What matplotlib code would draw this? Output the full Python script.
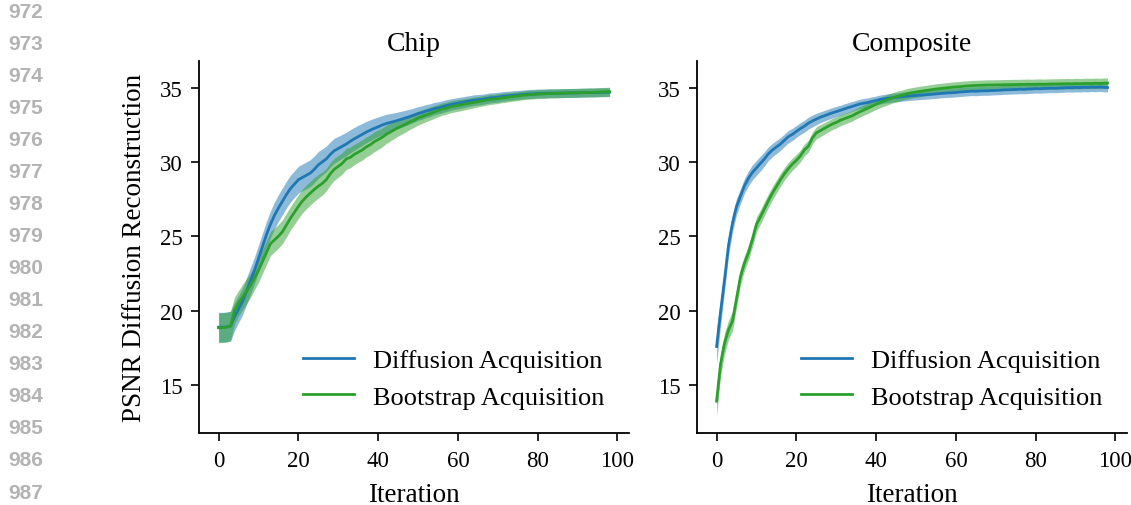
import numpy as np
import matplotlib
matplotlib.use("Agg")
import matplotlib.pyplot as plt

iterations = np.arange(99)

chip_diffusion_mean = [
    18.88, 18.88, 18.90, 18.95, 19.60, 20.10, 20.60, 21.30, 22.00, 22.70,
    23.50, 24.30, 25.10, 25.80, 26.40, 26.90, 27.35, 27.80, 28.20, 28.50,
    28.80, 28.95, 29.10, 29.25, 29.50, 29.80, 30.00, 30.20, 30.50, 30.75,
    30.90, 31.05, 31.20, 31.38, 31.55, 31.70, 31.85, 32.00, 32.13, 32.25,
    32.36, 32.48, 32.58, 32.65, 32.72, 32.80, 32.88, 32.97, 33.05, 33.15,
    33.25, 33.32, 33.42, 33.48, 33.58, 33.63, 33.70, 33.78, 33.84, 33.90,
    33.95, 34.00, 34.05, 34.10, 34.15, 34.18, 34.20, 34.25, 34.30, 34.32,
    34.35, 34.40, 34.43, 34.45, 34.48, 34.50, 34.53, 34.55, 34.57, 34.58,
    34.60, 34.60, 34.61, 34.62, 34.62, 34.62, 34.63, 34.63, 34.64, 34.64,
    34.64, 34.65, 34.66, 34.67, 34.66, 34.67, 34.68, 34.68, 34.69,
]
chip_diffusion_std = [
    1.00, 1.00, 1.00, 1.00, 0.95, 0.90, 0.90, 0.90, 0.90, 0.90,
    0.90, 0.90, 0.90, 0.90, 0.90, 0.90, 0.90, 0.90, 0.90, 0.90,
    0.90, 0.90, 0.90, 0.90, 0.90, 0.90, 0.88, 0.86, 0.85, 0.84,
    0.82, 0.80, 0.79, 0.78, 0.77, 0.76, 0.74, 0.72, 0.70, 0.68,
    0.66, 0.64, 0.62, 0.60, 0.58, 0.56, 0.54, 0.52, 0.50, 0.48,
    0.46, 0.45, 0.44, 0.43, 0.42, 0.41, 0.40, 0.40, 0.39, 0.38,
    0.38, 0.37, 0.37, 0.36, 0.36, 0.35, 0.35, 0.34, 0.34, 0.33,
    0.33, 0.32, 0.32, 0.31, 0.31, 0.30, 0.30, 0.30, 0.30, 0.30,
    0.30, 0.30, 0.30, 0.30, 0.30, 0.30, 0.30, 0.30, 0.30, 0.30,
    0.30, 0.30, 0.30, 0.30, 0.30, 0.30, 0.30, 0.30, 0.30,
]
chip_bootstrap_mean = [
    18.84, 18.85, 18.88, 18.97, 20.00, 20.50, 20.90, 21.30, 21.70, 22.20,
    22.70, 23.30, 23.90, 24.50, 24.75, 25.00, 25.30, 25.75, 26.20, 26.60,
    27.00, 27.36, 27.65, 27.90, 28.15, 28.36, 28.55, 28.80, 29.20, 29.50,
    29.70, 29.90, 30.20, 30.30, 30.50, 30.65, 30.80, 31.00, 31.15, 31.35,
    31.50, 31.65, 31.85, 32.00, 32.15, 32.30, 32.42, 32.55, 32.70, 32.80,
    32.95, 33.05, 33.15, 33.25, 33.35, 33.45, 33.55, 33.60, 33.70, 33.75,
    33.80, 33.85, 33.90, 33.95, 34.00, 34.05, 34.10, 34.15, 34.20, 34.22,
    34.26, 34.30, 34.33, 34.37, 34.40, 34.43, 34.47, 34.50, 34.52, 34.54,
    34.56, 34.57, 34.58, 34.60, 34.60, 34.61, 34.62, 34.63, 34.63, 34.64,
    34.65, 34.66, 34.66, 34.67, 34.68, 34.69, 34.70, 34.71, 34.72,
]
chip_bootstrap_std = [
    1.00, 1.00, 1.00, 1.00, 0.90, 0.85, 0.85, 0.85, 0.82, 0.80,
    0.80, 0.80, 0.80, 0.80, 0.80, 0.80, 0.80, 0.80, 0.80, 0.80,
    0.80, 0.80, 0.80, 0.80, 0.80, 0.80, 0.78, 0.76, 0.75, 0.74,
    0.73, 0.72, 0.71, 0.70, 0.69, 0.68, 0.68, 0.67, 0.67, 0.67,
    0.66, 0.64, 0.62, 0.60, 0.58, 0.56, 0.54, 0.52, 0.50, 0.48,
    0.47, 0.46, 0.45, 0.44, 0.43, 0.42, 0.41, 0.40, 0.40, 0.40,
    0.40, 0.39, 0.38, 0.37, 0.36, 0.35, 0.35, 0.34, 0.34, 0.33,
    0.33, 0.32, 0.32, 0.31, 0.31, 0.30, 0.30, 0.30, 0.30, 0.30,
    0.30, 0.30, 0.30, 0.30, 0.30, 0.30, 0.30, 0.30, 0.30, 0.30,
    0.30, 0.30, 0.30, 0.30, 0.30, 0.30, 0.30, 0.30, 0.30,
]

composite_diffusion_mean = [
    17.58, 19.90, 22.10, 24.40, 25.90, 27.00, 27.70, 28.40, 28.90, 29.30,
    29.60, 29.90, 30.20, 30.55, 30.80, 31.00, 31.20, 31.45, 31.70, 31.85,
    32.05, 32.24, 32.40, 32.60, 32.75, 32.88, 33.00, 33.10, 33.20, 33.30,
    33.38, 33.47, 33.56, 33.65, 33.73, 33.82, 33.90, 33.95, 34.00, 34.07,
    34.13, 34.20, 34.24, 34.28, 34.31, 34.34, 34.37, 34.40, 34.42, 34.45,
    34.47, 34.49, 34.51, 34.53, 34.55, 34.57, 34.60, 34.62, 34.64, 34.65,
    34.67, 34.70, 34.72, 34.74, 34.76, 34.75, 34.77, 34.78, 34.78, 34.80,
    34.81, 34.82, 34.84, 34.85, 34.86, 34.87, 34.89, 34.88, 34.90, 34.91,
    34.93, 34.92, 34.94, 34.95, 34.96, 34.95, 34.97, 34.98, 35.00, 34.99,
    35.01, 35.00, 35.02, 35.01, 35.03, 35.02, 35.04, 35.02, 35.00,
]
composite_diffusion_std = [
    1.20, 0.90, 0.80, 0.70, 0.60, 0.55, 0.50, 0.50, 0.50, 0.50,
    0.50, 0.50, 0.48, 0.46, 0.45, 0.44, 0.43, 0.42, 0.42, 0.41,
    0.40, 0.40, 0.40, 0.40, 0.40, 0.38, 0.37, 0.36, 0.35, 0.35,
    0.35, 0.34, 0.34, 0.33, 0.33, 0.32, 0.32, 0.32, 0.31, 0.31,
    0.30, 0.30, 0.30, 0.30, 0.30, 0.30, 0.30, 0.30, 0.30, 0.30,
    0.30, 0.30, 0.30, 0.30, 0.30, 0.30, 0.30, 0.30, 0.30, 0.30,
    0.30, 0.30, 0.30, 0.30, 0.30, 0.30, 0.30, 0.30, 0.30, 0.30,
    0.30, 0.30, 0.30, 0.30, 0.30, 0.30, 0.30, 0.30, 0.30, 0.30,
    0.30, 0.30, 0.30, 0.30, 0.30, 0.30, 0.30, 0.30, 0.30, 0.30,
    0.30, 0.30, 0.30, 0.30, 0.30, 0.30, 0.30, 0.30, 0.30,
]
composite_bootstrap_mean = [
    13.90, 16.40, 17.80, 18.70, 19.30, 20.80, 22.30, 23.20, 23.90, 24.80,
    25.80, 26.30, 26.85, 27.40, 27.90, 28.35, 28.80, 29.20, 29.55, 29.85,
    30.10, 30.40, 30.80, 31.05, 31.60, 31.95, 32.10, 32.25, 32.40, 32.55,
    32.65, 32.80, 32.90, 33.00, 33.10, 33.25, 33.38, 33.50, 33.62, 33.75,
    33.88, 34.00, 34.10, 34.20, 34.30, 34.38, 34.45, 34.52, 34.60, 34.65,
    34.70, 34.74, 34.78, 34.82, 34.86, 34.90, 34.93, 34.96, 34.99, 35.02,
    35.04, 35.06, 35.09, 35.11, 35.13, 35.14, 35.15, 35.16, 35.17, 35.17,
    35.18, 35.18, 35.19, 35.19, 35.20, 35.20, 35.21, 35.21, 35.22, 35.21,
    35.22, 35.23, 35.22, 35.23, 35.24, 35.24, 35.25, 35.25, 35.26, 35.25,
    35.27, 35.26, 35.27, 35.28, 35.27, 35.29, 35.28, 35.29, 35.30,
]
composite_bootstrap_std = [
    1.00, 0.80, 0.70, 0.65, 0.65, 0.60, 0.55, 0.50, 0.50, 0.50,
    0.50, 0.48, 0.47, 0.46, 0.45, 0.44, 0.43, 0.42, 0.42, 0.41,
    0.40, 0.40, 0.40, 0.40, 0.40, 0.40, 0.40, 0.39, 0.38, 0.38,
    0.37, 0.37, 0.36, 0.36, 0.35, 0.35, 0.35, 0.35, 0.35, 0.35,
    0.35, 0.35, 0.35, 0.35, 0.35, 0.35, 0.35, 0.35, 0.35, 0.35,
    0.35, 0.35, 0.35, 0.35, 0.35, 0.35, 0.35, 0.35, 0.35, 0.35,
    0.35, 0.35, 0.35, 0.35, 0.35, 0.35, 0.35, 0.35, 0.35, 0.35,
    0.35, 0.35, 0.35, 0.35, 0.35, 0.35, 0.35, 0.35, 0.35, 0.35,
    0.35, 0.35, 0.35, 0.35, 0.35, 0.35, 0.35, 0.35, 0.35, 0.35,
    0.35, 0.35, 0.35, 0.35, 0.35, 0.35, 0.35, 0.35, 0.35,
]

panel_titles = ["Chip", "Composite"]
series_labels = ["Diffusion Acquisition", "Bootstrap Acquisition"]
series_colors = ["#1f77b4", "#2ca02c"]
panels = [
    [(chip_diffusion_mean, chip_diffusion_std), (chip_bootstrap_mean, chip_bootstrap_std)],
    [(composite_diffusion_mean, composite_diffusion_std),
     (composite_bootstrap_mean, composite_bootstrap_std)],
]
line_numbers = list(range(972, 988))

plt.rcParams["font.family"] = ["Liberation Serif", "DejaVu Serif"]

fig = plt.figure(figsize=(11.31, 5.06), dpi=100)
ax_left = fig.add_axes([0.1760, 0.1423, 0.3802, 0.7352])
ax_right = fig.add_axes([0.6163, 0.1423, 0.3802, 0.7352], sharey=ax_left)

for ax, title, series in zip([ax_left, ax_right], panel_titles, panels):
    for (mean, std), label, color in zip(series, series_labels, series_colors):
        mean = np.asarray(mean)
        std = np.asarray(std)
        ax.fill_between(iterations, mean - std, mean + std, color=color,
                        alpha=0.5, linewidth=0)
        ax.plot(iterations, mean, color=color, lw=2.0, label=label)
    ax.set_title(title, fontsize=20, pad=8)
    ax.set_xlabel("Iteration", fontsize=19.5, labelpad=8)
    ax.set_xticks([0, 20, 40, 60, 80, 100])
    ax.set_yticks([15, 20, 25, 30, 35])
    ax.tick_params(labelsize=16.5, width=1.2, length=6, pad=6)
    for side in ("top", "right"):
        ax.spines[side].set_visible(False)
    for side in ("left", "bottom"):
        ax.spines[side].set_linewidth(1.3)
    ax.legend(loc="lower right", frameon=False, fontsize=19, handlelength=1.9,
              handletextpad=0.75, labelspacing=0.5, borderaxespad=0.52,
              borderpad=0.4)

ax_left.set_ylabel("PSNR Diffusion Reconstruction", fontsize=19.5, labelpad=9)
ax_left.margins(x=0.05, y=0.05)

for i, num in enumerate(line_numbers):
    fig.text(8 / 1131, 1 - (12 + 32.07 * i) / 506, str(num), ha="left", va="center",
             fontsize=15, fontweight="bold", color="#b3b3b3",
             family=["Liberation Sans", "DejaVu Sans"])

fig.savefig("out.png", dpi=100)
